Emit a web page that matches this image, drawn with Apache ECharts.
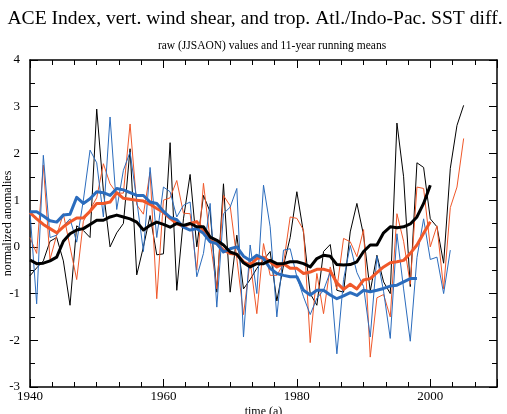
<!DOCTYPE html>
<html>
<head>
<meta charset="utf-8">
<script src="https://cdn.jsdelivr.net/npm/echarts@6/dist/echarts.min.js"></script>
<style>
html,body{margin:0;padding:0;background:#fff;}
#chart{width:507px;height:414px;}
</style>
</head>
<body>
<div id="chart"></div>
<script>
const years = [1940,1941,1942,1943,1944,1945,1946,1947,1948,1949,
1950,1951,1952,1953,1954,1955,1956,1957,1958,1959,
1960,1961,1962,1963,1964,1965,1966,1967,1968,1969,
1970,1971,1972,1973,1974,1975,1976,1977,1978,1979,
1980,1981,1982,1983,1984,1985,1986,1987,1988,1989,
1990,1991,1992,1993,1994,1995,1996,1997,1998,1999,
2000,2001,2002,2003,2004,2005];

// ACE index (raw), 1940-2005
const aceRaw = [-0.62,-0.45,-0.3,0.12,0.2,-0.3,-1.25,0.45,0.35,0.2,
2.95,1.2,0.0,0.3,0.5,2.1,-0.6,0.0,0.67,-0.17,
-0.15,2.23,-0.93,0.6,1.55,0.0,1.1,0.75,-0.97,1.35,
-0.97,0.25,-0.9,-0.7,-0.46,-0.28,-0.1,-1.16,-0.4,0.2,
1.18,0.3,-1.0,-1.25,-0.1,0.05,-0.93,-0.97,0.32,0.93,
0.25,-0.95,-0.18,-0.75,-1.0,2.65,1.5,-0.85,1.8,1.7,
0.6,0.43,-0.35,1.68,2.6,3.03];
// ACE 11-year running mean, 1940-2000
const aceMean = [-0.28,-0.36,-0.35,-0.3,-0.22,0.12,0.28,0.36,0.39,0.48,
0.57,0.57,0.64,0.68,0.64,0.6,0.53,0.36,0.46,0.53,
0.48,0.42,0.5,0.46,0.5,0.43,0.43,0.21,0.14,0.04,
-0.11,-0.16,-0.34,-0.43,-0.36,-0.36,-0.29,-0.36,-0.36,-0.32,
-0.32,-0.36,-0.43,-0.25,-0.18,-0.2,-0.38,-0.39,-0.38,-0.32,
-0.1,0.04,0.04,0.3,0.43,0.41,0.43,0.49,0.64,0.93,
1.32];
// Tropical Atl./Indo-Pac. SST difference (raw), 1940-2005
const sstRaw = [0.2,-0.14,1.75,-0.27,0.25,0.71,0.0,-0.7,0.55,0.8,
1.05,1.78,1.35,1.15,1.15,2.63,0.9,0.7,1.6,-1.11,
1.0,1.05,1.42,0.72,0.71,-0.5,1.36,0.14,-0.9,1.1,
0.88,-0.25,-1.45,-0.3,-1.43,0.07,-0.61,-0.61,-0.36,0.64,
0.61,0.36,-2.05,-0.57,-1.43,-0.43,-0.9,0.18,0.11,-0.21,
0.37,-2.36,-1.09,-1.02,-1.5,0.71,0.12,-0.8,1.28,1.25,
0.0,0.45,-0.9,0.84,1.28,2.32];
// SST difference 11-year running mean, 1940-2000
const sstMean = [0.73,0.6,0.48,0.39,0.3,0.43,0.53,0.62,0.62,0.76,
0.93,0.93,0.96,1.16,1.04,1.02,1.0,0.98,0.91,0.82,
0.74,0.61,0.5,0.43,0.5,0.54,0.36,0.14,0.07,-0.07,
-0.14,-0.16,-0.32,-0.39,-0.25,-0.22,-0.32,-0.43,-0.36,-0.46,
-0.46,-0.57,-0.54,-0.48,-0.48,-0.52,-0.77,-0.91,-0.8,-0.9,
-0.71,-0.68,-0.55,-0.43,-0.34,-0.32,-0.29,-0.14,0.04,0.29,
0.54];
// Vertical wind shear (raw, sign as plotted), 1940-2003
const shearRaw = [0.75,-1.22,1.96,0.2,0.25,0.45,0.6,0.1,1.0,2.07,
1.8,0.64,2.78,0.8,1.64,2.03,1.0,-0.1,1.7,0.2,
1.28,1.18,0.64,0.89,0.96,-0.64,-0.14,0.93,-1.29,0.71,
0.85,1.25,-1.93,0.04,-1.0,1.32,0.43,-1.5,-0.07,-0.04,
-0.64,-1.07,-1.45,-1.1,-0.93,-0.54,-2.29,-0.7,0.03,-0.55,
-0.85,-1.93,-0.2,-0.95,-1.96,0.28,-0.9,-2.02,-0.23,0.6,
-0.27,-0.22,-1.0,-0.07];
// Wind shear 11-year running mean, 1940-1998
const shearMean = [0.75,0.75,0.66,0.56,0.53,0.68,0.7,1.06,0.93,1.03,
1.18,1.16,1.1,1.25,1.22,1.16,1.1,1.1,0.96,0.93,
0.76,0.63,0.58,0.42,0.36,0.39,0.29,0.11,0.07,-0.11,
-0.04,0.0,-0.2,-0.29,-0.18,-0.25,-0.46,-0.57,-0.61,-0.64,
-0.64,-0.93,-1.03,-0.93,-0.93,-1.03,-1.11,-1.05,-0.98,-1.04,
-0.93,-0.96,-0.93,-0.89,-0.84,-0.82,-0.75,-0.68,-0.68];

const xTickLabels = ['1940','1960','1980','2000'];
const titleText = 'ACE Index, vert. wind shear, and trop. Atl./Indo-Pac. SST diff.';
const subText = 'raw (JJSAON) values and 11-year running means';
const xName = 'time (a)';
const yName = 'normalized anomalies';

const BLACK = '#000000', RED = '#f0582a', BLUE = '#2b6cbd';
const FONT = 'Liberation Serif';

function pairs(vals){ return vals.map((v,i)=>[years[i], v]); }

function line(name, vals, color, width, z){
  return {name, type:'line', data:pairs(vals), xAxisIndex:0, yAxisIndex:0,
    showSymbol:false, symbol:'none', smooth:false, z:z,
    lineStyle:{color, width, join:'round'}, itemStyle:{color}, animation:false};
}

const tickStyle = {color:'#000', width:1};
function xAx(pos, show){
  return {type:'value', position:pos, min:1940, max:2010, interval:20,
    name: show ? xName : '', nameLocation:'middle', nameGap:19, nameMoveOverlap:false,
    nameTextStyle:{fontFamily:FONT, fontSize:12, color:'#000'},
    axisLine:{show:true, onZero:false, lineStyle:{color:'#000', width:1.5}},
    axisTick:{show:true, inside:true, length:8, lineStyle:tickStyle},
    minorTick:{show:true, splitNumber:6, length:5, lineStyle:tickStyle},
    axisLabel:{show:show, margin:3, fontFamily:FONT, fontSize:13, color:'#000',
      showMaxLabel:false,
      formatter:(v)=> xTickLabels.includes(String(v)) ? String(v) : ''},
    splitLine:{show:false}, minorSplitLine:{show:false}};
}
function yAx(pos, show){
  return {type:'value', position:pos, min:-3, max:4, interval:1,
    name: show ? yName : '', nameLocation:'middle', nameGap:16, nameRotate:90, nameMoveOverlap:false,
    nameTextStyle:{fontFamily:FONT, fontSize:12, color:'#000'},
    axisLine:{show:true, onZero:false, lineStyle:{color:'#000', width:1.5}},
    axisTick:{show:true, inside:true, length:8, lineStyle:tickStyle},
    minorTick:{show:true, splitNumber:2, length:5, lineStyle:tickStyle},
    axisLabel:{show:show, margin:10, fontFamily:FONT, fontSize:13, color:'#000'},
    splitLine:{show:false}, minorSplitLine:{show:false}};
}

const chart = echarts.init(document.getElementById('chart'), null, {renderer:'canvas'});
chart.setOption({
  backgroundColor:'#fff',
  animation:false,
  textStyle:{fontFamily:FONT},
  graphic:[
    {type:'text', x:255, y:19, style:{text:titleText, fontFamily:FONT, fontSize:19.6, fill:'#000', align:'center', verticalAlign:'middle'}},
    {type:'text', x:272, y:46, style:{text:subText, fontFamily:FONT, fontSize:11.5, fill:'#000', align:'center', verticalAlign:'middle'}}
  ],
  grid:{left:30, right:10, top:60, bottom:27, containLabel:false, outerBoundsMode:'none'},
  xAxis:[xAx('bottom', true), xAx('top', false)],
  yAxis:[yAx('left', true), yAx('right', false)],
  series:[
    line('ACE raw', aceRaw, BLACK, 1, 2),
    line('SST raw', sstRaw, RED, 1, 2),
    line('Shear raw', shearRaw, BLUE, 1, 2),
    line('SST mean', sstMean, RED, 3, 3),
    line('Shear mean', shearMean, BLUE, 3, 3),
    line('ACE mean', aceMean, BLACK, 3, 4)
  ]
});
</script>
</body>
</html>
